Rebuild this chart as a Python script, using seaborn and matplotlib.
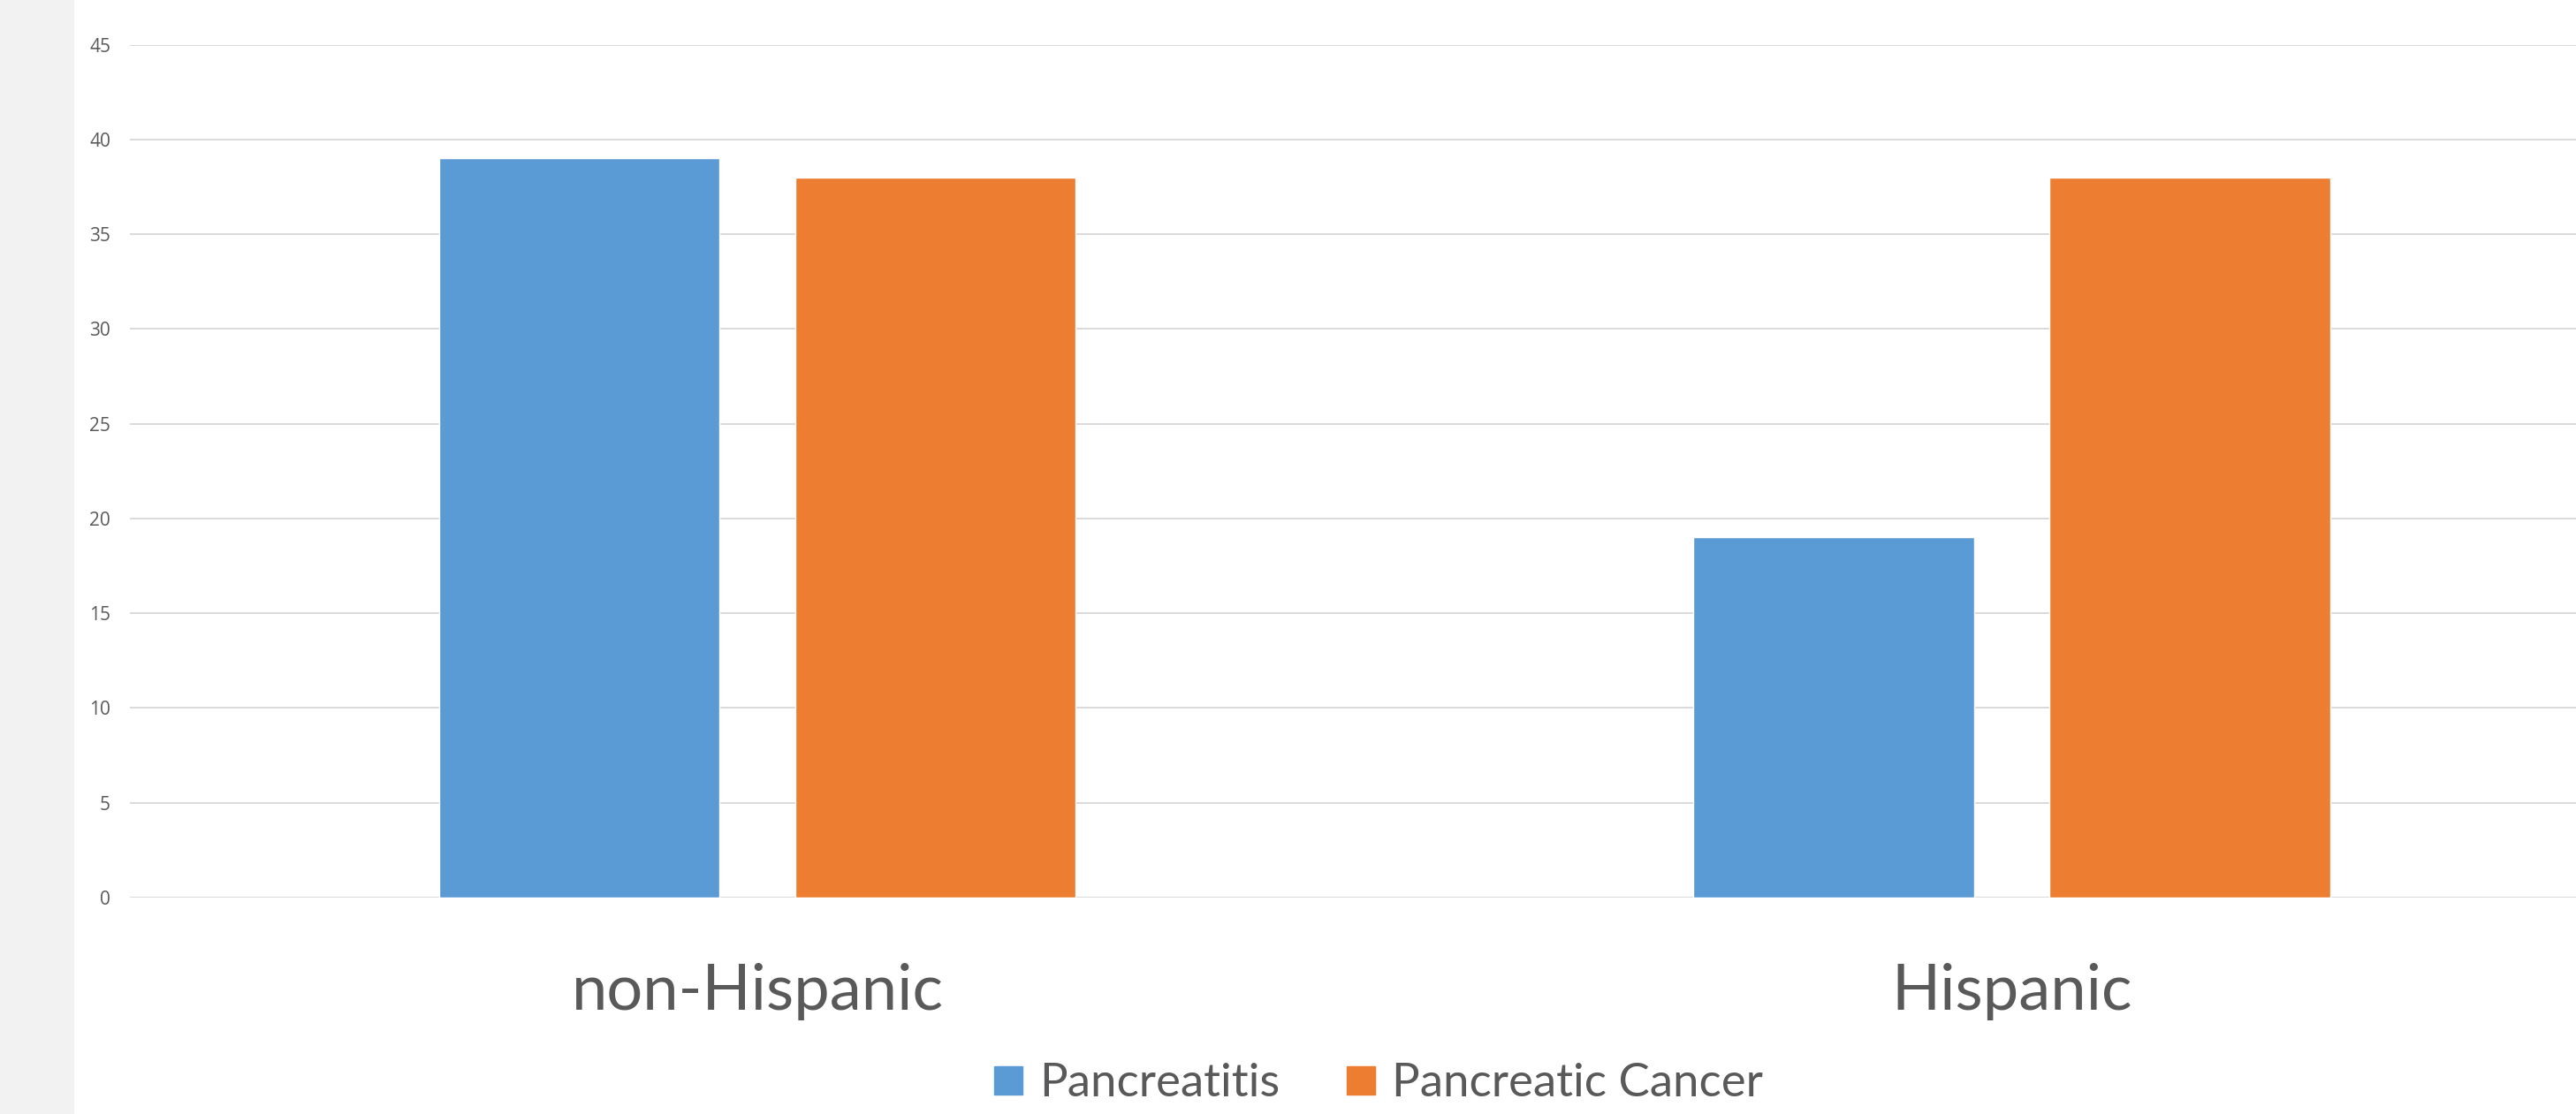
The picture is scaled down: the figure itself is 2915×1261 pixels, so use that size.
import matplotlib
matplotlib.use("Agg")
import matplotlib.pyplot as plt
from matplotlib.lines import Line2D
from matplotlib.patches import Rectangle
import seaborn as sns
import pandas as pd

# Data
groups = ["non-Hispanic", "Hispanic"]
series = ["Pancreatitis", "Pancreatic Cancer"]
pancreatitis = [39, 19]
pancreatic_cancer = [38, 38]
y_ticks = [0, 5, 10, 15, 20, 25, 30, 35, 40, 45]

colors = ["#5B9BD5", "#ED7D31"]
text_color = "#595959"
grid_color = "#D9D9D9"

df = pd.DataFrame({
    "group": groups * 2,
    "series": [series[0]] * 2 + [series[1]] * 2,
    "value": pancreatitis + pancreatic_cancer,
})

sns.set_theme(style="white")
plt.rcParams["font.family"] = ["Lato", "DejaVu Sans"]

W, H = 2915, 1261
fig = plt.figure(figsize=(W / 100, H / 100), dpi=100)
fig.patch.set_facecolor("white")

# grey side panel on the left edge
fig.patches.append(Rectangle((0, 0), 84 / W, 1, transform=fig.transFigure,
                             facecolor="#F2F2F2", edgecolor="none", zorder=0))

ax_left = 147.25 / W
ax_right = 2986 / W
ax_bottom = 1 - 1016 / H
ax_top = 1 - 50.7 / H
ax = fig.add_axes([ax_left, ax_bottom, ax_right - ax_left, ax_top - ax_bottom])
ax.set_facecolor("none")

sns.barplot(data=df, x="group", y="value", hue="series", order=groups,
            hue_order=series, palette=colors, width=0.568, gap=0.212,
            saturation=1, legend=False, ax=ax, zorder=3)

ax.set_xlim(-0.5, 1.5)
ax.set_ylim(0, 45)
ax.set_yticks(y_ticks)
ax.set_yticklabels([str(t) for t in y_ticks])
ax.set_xlabel("")
ax.set_ylabel("")
for s in ax.spines.values():
    s.set_visible(False)
ax.yaxis.grid(True, color=grid_color, linewidth=1.4, zorder=0)
ax.set_axisbelow(True)
ax.tick_params(axis="y", length=0, pad=16, labelsize=15, labelcolor=text_color)
ax.tick_params(axis="x", length=0, pad=53, labelsize=52, labelcolor=text_color)
for t in ax.get_yticklabels():
    t.set_fontfamily(["Open Sans", "DejaVu Sans"])

handles = [Line2D([], [], marker="s", linestyle="", markersize=23,
                  markerfacecolor=c, markeredgecolor=c) for c in colors]
fig.legend(handles, series, loc="lower center",
           bbox_to_anchor=(1560 / W, 1 - 1250 / H), ncol=2, frameon=False,
           fontsize=38, handlelength=0.61, handletextpad=0.36,
           columnspacing=1.44, labelcolor=text_color, borderpad=0,
           borderaxespad=0)

fig.savefig("out.png", dpi=100)
